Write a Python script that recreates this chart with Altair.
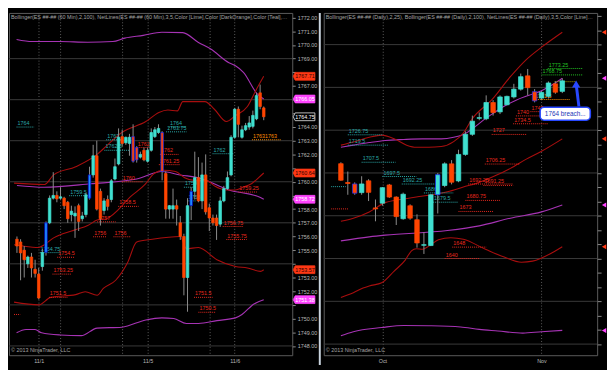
import altair as alt
import pandas as pd

FONT = "Liberation Sans"
UP, DOWN, BLUE, EDGE = "#40e0d0", "#ff4500", "#1e90ff", "#1a2cff"
DRED, PURP = "#a80e0e", "#a633b4"
NET_COL = {"teal": "#2aa9a9", "red": "#e8281e", "orange": "#ff8c00",
           "green": "#22c422", "olive": "#a6a600"}

# ---------------- Left panel: ES 60 Min ----------------
L_open = [1755.8, 1755.6, 1755.0, 1754.0, 1754.5, 1753.6, 1753.25, 1753.8, 1754.84, 1757.0,
          1758.8, 1759.0, 1758.8, 1758.8, 1758.5, 1757.6, 1757.5, 1758.25, 1757.3, 1757.6,
          1758.8, 1760.5, 1761.9, 1759.3, 1757.9, 1758.7, 1758.7, 1760.2, 1761.3, 1763.3,
          1762.85, 1762.8, 1763.3, 1762.5, 1761.8, 1762.3, 1761.5, 1762.3, 1763.3, 1763.6,
          1763.6, 1760.6, 1758.0, 1758.0, 1758.25, 1757.0, 1756.0, 1753.0, 1758.25, 1759.3,
          1760.3, 1758.6, 1760.5, 1758.1, 1757.35, 1757.35, 1756.9, 1758.6, 1759.5, 1760.5,
          1763.25, 1765.3, 1763.25, 1763.8, 1764.0, 1764.05, 1764.6, 1766.5, 1765.4]
L_high = [1756.0, 1755.8, 1755.3, 1754.6, 1754.8, 1754.3, 1753.7, 1755.1, 1757.1, 1759.0,
          1760.7, 1759.3, 1759.6, 1758.9, 1758.6, 1758.25, 1758.2, 1758.4, 1757.8, 1759.2,
          1761.1, 1762.7, 1763.0, 1759.5, 1758.8, 1759.0, 1760.2, 1761.7, 1763.9, 1763.8,
          1763.3, 1763.5, 1764.2, 1762.6, 1762.2, 1762.5, 1762.5, 1763.9, 1764.0, 1764.2,
          1763.7, 1760.75, 1758.3, 1759.5, 1758.7, 1757.5, 1756.2, 1758.8, 1759.6, 1762.2,
          1761.8, 1761.4, 1762.0, 1758.4, 1757.6, 1757.6, 1758.9, 1759.7, 1760.75, 1763.4,
          1765.4, 1765.5, 1764.1, 1764.3, 1764.8, 1765.2, 1766.5, 1767.1, 1765.5]
L_low = [1754.8, 1752.8, 1753.0, 1753.7, 1753.0, 1753.0, 1751.4, 1753.5, 1754.6, 1756.9,
         1758.7, 1758.5, 1758.7, 1758.0, 1757.0, 1757.1, 1755.9, 1756.4, 1757.1, 1757.4,
         1758.7, 1760.3, 1757.9, 1756.8, 1757.6, 1757.9, 1758.5, 1760.1, 1761.2, 1762.6,
         1762.7, 1761.9, 1761.4, 1761.4, 1761.7, 1761.5, 1761.4, 1762.2, 1763.2, 1763.5,
         1760.1, 1757.3, 1757.3, 1757.3, 1756.8, 1755.75, 1751.7, 1750.5, 1757.2, 1758.7,
         1758.5, 1758.0, 1757.6, 1756.4, 1756.8, 1755.75, 1756.7, 1758.5, 1759.4, 1760.4,
         1763.15, 1763.25, 1763.15, 1763.7, 1763.8, 1763.9, 1764.5, 1765.3, 1764.5]
L_close = [1755.3, 1754.8, 1754.3, 1754.5, 1753.7, 1753.3, 1751.5, 1754.84, 1757.0, 1758.8,
           1759.0, 1758.75, 1758.9, 1758.25, 1757.3, 1757.85, 1757.7, 1757.1, 1757.5, 1759.05,
           1760.5, 1761.9, 1758.0, 1757.3, 1758.6, 1758.2, 1760.07, 1761.1, 1763.25, 1762.8,
           1763.25, 1763.25, 1761.5, 1761.6, 1762.0, 1761.6, 1762.3, 1763.6, 1763.8, 1763.9,
           1760.75, 1758.0, 1758.25, 1758.25, 1758.0, 1756.0, 1753.0, 1758.25, 1759.3, 1760.3,
           1758.6, 1760.5, 1757.8, 1757.35, 1757.0, 1756.8, 1758.6, 1759.5, 1760.3, 1763.25,
           1765.3, 1764.2, 1763.8, 1764.1, 1764.3, 1764.85, 1766.3, 1765.5, 1764.75]
L_blue = [8, 20, 48]
L_outlined = [32, 33, 40]

# Bollinger / band lines (bar index, price)
LPU_i = [-0.1, 4.2, 11.9, 19.5, 26.4, 29.7, 34.8, 39.9, 45.7, 50.0, 53.4, 58.4, 60.2, 62.4, 66.2, 68]
LPU_p = [1770.4, 1770.25, 1770.25, 1770.2, 1770.25, 1770.5, 1770.7, 1770.93, 1770.9, 1770.18, 1769.7,
         1768.7, 1768.48, 1768.0, 1766.43, 1766.05]
LPM_i = [0, 7.5, 20.3, 33.0, 39.9, 45.0, 50.0, 58.4, 67.1, 68]
LPM_p = [1759.73, 1759.6, 1759.85, 1760.2, 1760.75, 1760.5, 1760.3, 1759.4, 1758.85, 1758.72]
LPL_i = [-0.1, 2.5, 5.0, 6.8, 11.9, 17.7, 22.1, 28.9, 35.5, 39.9, 43.2, 46.7, 50.0, 55.1, 60.2, 62.0, 65.3, 68]
LPL_p = [1748.96, 1749.2, 1749.2, 1748.96, 1748.8, 1748.75, 1749.3, 1749.37, 1749.9, 1750.05, 1750.0,
         1749.64, 1749.64, 1749.85, 1750.05, 1750.3, 1751.07, 1751.38]
LRU_i = [-0.8, 7.6, 10.1, 16.2, 22.1, 24.6, 28.9, 35.5, 39.1, 41.6, 44.2, 45.7, 51.8, 54.4, 57.7, 60.2,
         63.5, 65.8, 68]
LRU_p = [1759.9, 1759.8, 1760.5, 1761.1, 1762.0, 1762.6, 1763.6, 1764.4, 1765.07, 1765.25, 1765.18,
         1765.86, 1765.86, 1765.3, 1764.4, 1764.84, 1765.5, 1766.66, 1767.71]
LRM_i = [-0.8, 1.7, 6.0, 7.6, 10.1, 12.6, 16.2, 19.5, 22.1, 24.6, 31.7, 35.3, 37.8, 40.4, 43.7, 46.2,
         48.8, 52.1, 54.4, 55.9, 57.7, 60.2, 62.3, 64.6, 66.6, 68]
LRM_p = [1755.4, 1755.3, 1755.2, 1755.4, 1755.9, 1756.2, 1756.5, 1756.8, 1757.2, 1757.3, 1759.0,
         1759.8, 1760.6, 1760.84, 1760.75, 1760.3, 1760.1, 1760.1, 1759.7, 1759.5, 1759.4, 1759.4,
         1759.6, 1759.85, 1760.3, 1760.64]
LRL_i = [-0.8, 6.0, 9.3, 16.2, 18.8, 22.1, 23.8, 27.2, 30.5, 33.0, 37.3, 45.0, 46.7, 50.0, 55.1, 60.2,
         63.5, 67.1, 68]
LRL_p = [1751.2, 1751.0, 1751.55, 1751.75, 1751.96, 1751.7, 1752.2, 1752.8, 1754.1, 1755.6, 1755.8,
         1756.0, 1755.1, 1755.2, 1754.3, 1753.8, 1753.7, 1753.45, 1753.57]

# NetLines labels
LN_text = ["1764", "1764", "1763.75", "1763", "1762.5", "1762", "1762", "1761.25", "1760", "1759.5",
           "1758.5", "1757", "1756", "1756", "1762", "17631763", "1759.25", "1756.75", "1755.75", "1759",
           "1758", "1754.75", "1754.5", "1753.25", "1751.5", "1751.5", "1750.5", ""]
LN_price = [1764.0, 1764.0, 1763.65, 1763.07, 1762.3, 1762.5, 1762.0, 1761.25, 1760.0, 1758.98,
            1758.2, 1757.07, 1755.98, 1755.98, 1762.05, 1763.07, 1759.25, 1756.73, 1755.78, 1759.6,
            1758.6, 1754.82, 1754.48, 1753.25, 1751.55, 1751.55, 1750.46, 1750.3]
LN_x0 = [-0.1, 41.9, 41.1, 24.6, 24.1, 33.0, 39.4, 39.1, 28.9, 14.4, 27.9, 22.1, 21.0, 26.6, 53.9,
         64.8, 61.0, 56.7, 57.7, 46.0, 47.0, 6.3, 11.1, 9.8, 8.8, 48.8, 50.0, -0.8]
LN_x1 = [4.8, 46.7, 46.7, 29.2, 31.0, 37.3, 44.5, 45.0, 34.8, 20.3, 33.5, 27.2, 24.6, 31.2, 59.7,
         72.9, 66.1, 62.3, 63.3, 48.8, 49.3, 11.9, 16.0, 14.9, 13.9, 53.9, 54.6, 0.9]
LN_kind = ["teal", "teal", "teal", "teal", "teal", "red", "red", "red", "red", "teal",
           "red", "red", "red", "red", "teal", "orange", "red", "red", "red", "teal",
           "teal", "teal", "red", "red", "red", "red", "red", "red"]

L_tag_p = [1767.71, 1766.05, 1764.75, 1760.64, 1758.72, 1753.57, 1751.38]
L_tag_kind = ["red", "mag", "last", "red", "mag", "red", "mag"]

L_grid = [1748, 1751, 1754, 1757, 1760, 1763, 1766, 1769]
L_yticks = list(range(1748, 1773))
L_xticks = [6, 12, 29, 36, 53, 60]
L_xlabels = ["11/1", "", "", "11/5", "", "11/6"]
L_XDOM = [-0.84, 74.5]
L_YDOM = [1747.32, 1772.34]
L_HEADER = ("Bollinger(ES ##-## (60 Min),2,100), NetLines(ES ##-## (60 Min),3,5,Color [Lime],"
            "Color [DarkOrange],Color [Teal],Color [R")

# ---------------- Right panel: ES Daily ----------------
R_open = [1706.5, 1693.3, 1692.3, 1686.2, 1694.5, 1675.5, 1678.8, 1691.6, 1683.1, 1667.9,
          1677.0, 1667.2, 1649.3, 1649.1, 1684.7, 1691.2, 1706.4, 1694.4, 1713.0, 1727.1,
          1738.3, 1738.0, 1749.4, 1742.8, 1747.8, 1753.3, 1758.75, 1768.1, 1757.0, 1752.5,
          1753.7, 1762.5, 1757.2]
R_high = [1707.5, 1701.0, 1693.4, 1697.7, 1695.6, 1681.4, 1690.1, 1692.3, 1683.6, 1686.2,
          1678.0, 1671.0, 1658.5, 1685.0, 1699.9, 1707.5, 1709.0, 1716.3, 1729.2, 1740.2,
          1742.4, 1754.4, 1751.1, 1754.4, 1754.2, 1762.5, 1769.7, 1772.9, 1758.8, 1757.5,
          1764.2, 1764.2, 1766.4]
R_low = [1694.5, 1684.7, 1684.7, 1684.7, 1680.3, 1666.1, 1677.0, 1682.5, 1663.5, 1667.2,
         1667.2, 1647.6, 1643.2, 1648.7, 1671.6, 1690.0, 1692.0, 1693.5, 1712.0, 1726.0,
         1737.0, 1737.0, 1740.2, 1741.3, 1747.5, 1752.2, 1757.7, 1754.4, 1749.5, 1751.0,
         1752.2, 1755.5, 1756.0]
R_close = [1694.9, 1692.6, 1685.8, 1692.3, 1686.4, 1674.8, 1689.7, 1683.1, 1669.4, 1685.1,
           1668.3, 1650.9, 1649.7, 1684.7, 1698.8, 1706.4, 1693.5, 1713.0, 1727.1, 1736.3,
           1738.8, 1749.4, 1742.4, 1753.3, 1753.7, 1758.75, 1767.5, 1759.8, 1750.5, 1756.5,
           1763.1, 1756.6, 1764.6]
R_outlined = [2, 14, 28]

RRU_j = [0, 1.8, 4.1, 5.9, 7.7, 9.5, 10.9, 12.7, 14.5, 16.3, 17.7, 19.0, 21.8, 24.5, 26.8, 29.0, 32]
RRU_p = [1719.5, 1721.7, 1725.0, 1726.5, 1723.9, 1719.5, 1718.0, 1718.0, 1718.5, 1722.0, 1728.0,
         1738.1, 1751.2, 1767.5, 1779.5, 1788.2, 1798.7]
RPU_j = [0, 1.8, 4.1, 6.4, 9.1, 11.8, 14.5, 16.3, 17.7, 20.9, 23.6, 25.4, 27.2, 29.0, 30.8, 32]
RPU_p = [1718.0, 1719.5, 1721.3, 1722.8, 1723.5, 1723.9, 1723.9, 1725.0, 1727.0, 1738.1, 1746.8,
         1751.2, 1754.5, 1757.7, 1762.5, 1766.4]
RRM_j = [0, 1.8, 4.1, 6.4, 8.6, 10.9, 13.2, 15.4, 17.7, 20.0, 22.2, 24.5, 26.8, 29.0, 32]
RRM_p = [1666.2, 1668.3, 1672.7, 1679.2, 1681.4, 1683.2, 1684.7, 1686.8, 1690.1, 1693.4, 1697.8,
         1703.2, 1709.7, 1715.2, 1723.9]
RPM_j = [0, 4.1, 6.4, 15.4, 20.0, 24.5, 29.0, 32]
RPM_p = [1652.4, 1655.2, 1656.4, 1659.6, 1662.9, 1668.3, 1672.7, 1677.5]
RRL_j = [0, 1.8, 3.2, 4.1, 5.9, 7.7, 9.3, 10.2, 10.9, 11.8, 12.7, 14.1, 15.9, 17.7, 20.9, 23.6, 26.1,
         27.7, 29.0, 30.8, 32]
RRL_p = [1612.7, 1616.0, 1619.3, 1620.8, 1623.0, 1631.2, 1638.9, 1645.4, 1646.9, 1646.5, 1648.7,
         1653.1, 1654.6, 1653.5, 1646.5, 1641.0, 1637.4, 1638.2, 1640.4, 1644.8, 1648.3]
RPL_j = [0, 1.8, 5.9, 9.1, 12.7, 17.3, 20.0, 22.7, 26.3, 29.0, 32]
RPL_p = [1585.9, 1588.7, 1591.6, 1593.1, 1592.9, 1592.0, 1590.3, 1589.2, 1587.7, 1588.7, 1589.6]

RN_text = ["1773.25", "1768.75", "", "1751.5", "1743", "1740", "1734.5", "1727", "1706.25", "1692.25",
           "1691.25", "1680.75", "1673", "1648", "1640", "1726.75", "1719.5", "1707.5", "1697.5",
           "1692.25", "1686", "1679.5", "", ""]
RN_price = [1773.25, 1768.75, 1764.0, 1751.5, 1743.0, 1740.0, 1734.5, 1727.0, 1706.25, 1692.25,
            1691.25, 1680.75, 1673.0, 1648.0, 1640.0, 1726.75, 1719.5, 1707.5, 1697.5, 1692.25,
            1686.0, 1679.5, 1690.4, 1674.8]
RN_x0 = [29.9, 29.0, 30.9, 27.9, 27.4, 25.3, 24.9, 21.8, 20.8, 18.4, 20.6, 18.0, 17.0, 16.1, 15.0,
         1.0, 1.0, 3.0, 6.0, 8.8, 12.0, 13.3, -1.4, -1.4]
RN_x1 = [35.0, 35.0, 34.0, 33.1, 29.9, 29.3, 29.9, 26.9, 25.9, 24.9, 24.9, 23.1, 22.0, 21.0, 20.0,
         6.1, 6.8, 7.9, 10.9, 13.6, 16.3, 17.0, 0.7, 1.1]
RN_kind = ["green", "green", "olive", "orange", "red", "red", "red", "red", "red", "red",
           "red", "red", "red", "red", "red", "teal", "teal", "teal", "teal", "teal",
           "teal", "teal", "teal", "red"]

R_grid = [1580, 1610, 1640, 1670, 1700, 1730, 1760, 1790]
R_yticks = list(range(1580, 1811, 10))
R_xticks = [6, 29]
R_xlabels = ["Oct", "Nov"]
R_XDOM = [-1.77, 36.33]
R_YDOM = [1572.2, 1812.2]
R_HEADER = ("Bollinger(ES ##-## (Daily),2,25), Bollinger(ES ##-## (Daily),2,100), "
            "NetLines(ES ##-## (Daily),3,5,Color [Line],Colo")

CALLOUT_TEXT = "1764 breach..."
CALLOUT_BOX = {"x0": 28.8, "x1": 36.05, "p0": 1737.0, "p1": 1746.1}
ARROW = {"x0": 34.4, "p0": 1746.7, "x1": 34.0, "p1": 1762.4}
COPYRIGHT = "\u00a9 2013 NinjaTrader, LLC"

WL, WR, H = 288, 278, 348


def lab_expr(vals, labs):
    e = "''"
    for v, l in zip(reversed(vals), reversed(labs)):
        e = f"datum.value == {v} ? '{l}' : ({e})"
    return e


def price_label_expr(tags):
    cond = " || ".join(f"abs(datum.value - {t}) < 0.5" for t in tags)
    return f"({cond}) ? '' : format(datum.value, '.2f')"


def make_axes(xticks, xlabels, yticks, show_ylabels, tags=()):
    xa = alt.Axis(orient="bottom", values=xticks, labelExpr=lab_expr(xticks, xlabels), grid=True,
                  gridDash=[1, 2], gridColor="#5e5e5e", ticks=False, domain=False, title=None,
                  labelPadding=3, labelOverlap=False, labelFlush=False)
    if show_ylabels:
        ya = alt.Axis(orient="right", values=yticks, labelExpr=price_label_expr(tags), grid=False,
                      title=None, tickSize=3, labelPadding=2, domain=False, labelOverlap=False)
    else:
        ya = alt.Axis(orient="right", values=yticks, labels=False, grid=False, title=None, tickSize=4,
                      domain=False)
    return xa, ya


def candles_df(o, h, l, c, blue, outlined):
    rows = []
    for k in range(len(o)):
        fill = UP if c[k] >= o[k] else DOWN
        stroke = fill
        if k in blue:
            fill, stroke = BLUE, "#0000cd"
        if k in outlined:
            stroke = EDGE
        rows.append({"x": k, "o": o[k], "h": h[k], "l": l[k], "c": c[k], "fill": fill, "stroke": stroke})
    return pd.DataFrame(rows)


def lines_df(series):
    rows = []
    for name, xs, ps, col in series:
        for a, b in zip(xs, ps):
            rows.append({"s": name, "x": a, "p": b, "col": col})
    return pd.DataFrame(rows)


def net_df(t, p, x0, x1, kind):
    return pd.DataFrame({"t": t, "p": p, "x0": x0, "x1": x1,
                         "col": [NET_COL[k] for k in kind]})


def panel(W, xdom, ydom, xa, ya, grid, cdf, body, ldf, ndf, header, extra):
    def X(f):
        return alt.X(f, type="quantitative", scale=alt.Scale(domain=xdom, nice=False, zero=False), axis=xa)

    def Y(f):
        return alt.Y(f, type="quantitative", scale=alt.Scale(domain=ydom, nice=False, zero=False), axis=ya)

    layers = []
    layers.append(alt.Chart(pd.DataFrame({"p": grid})).mark_rule(color="#3a3a3a", strokeWidth=1)
                  .encode(y=Y("p")))
    layers.append(alt.Chart(ldf).mark_line(strokeWidth=1.1, interpolate="monotone")
                  .encode(x=X("x"), y=Y("p"), color=alt.Color("col:N", scale=None), detail="s:N"))
    layers.append(alt.Chart(ndf).mark_rule(strokeDash=[1, 1], strokeWidth=1)
                  .encode(x=X("x0"), x2="x1", y=Y("p"), color=alt.Color("col:N", scale=None)))
    layers.append(alt.Chart(ndf).mark_text(align="left", baseline="bottom", dx=1, dy=-1, fontSize=5.5,
                                           font=FONT)
                  .encode(x=X("x0"), y=Y("p"), text="t:N", color=alt.Color("col:N", scale=None)))
    layers.append(alt.Chart(cdf).mark_rule(color="#8e8e8e", strokeWidth=1)
                  .encode(x=X("x"), y=Y("l"), y2="h"))
    layers.append(alt.Chart(cdf).mark_bar(size=body, strokeWidth=0.7, orient="vertical")
                  .encode(x=X("x"), y=Y("o"), y2="c", fill=alt.Fill("fill:N", scale=None),
                          stroke=alt.Stroke("stroke:N", scale=None)))
    layers.append(alt.Chart(pd.DataFrame({"t": [header]}))
                  .mark_text(align="left", baseline="top", fontSize=5.5, font=FONT, color="#a4a4a4",
                             limit=W - 4, ellipsis="")
                  .encode(x=alt.value(2), y=alt.value(2), text="t:N"))
    layers.append(alt.Chart(pd.DataFrame({"t": [COPYRIGHT]}))
                  .mark_text(align="left", baseline="bottom", fontSize=5.5, font=FONT, color="#a4a4a4")
                  .encode(x=alt.value(2), y=alt.value(H - 2), text="t:N"))
    layers += extra(X, Y)
    return alt.layer(*layers).properties(width=W, height=H)


# ---- left extras: price tags on the axis ----
TAG_PATH = "M-1,0 L-0.82,-0.36 L1,-0.36 L1,0.36 L-0.82,0.36 Z"
TAG_FILL = {"red": "#ff3814", "mag": "#ff44ff", "last": "#000000"}
TAG_STROKE = {"red": "#ff3814", "mag": "#ff44ff", "last": "#e8e8e8"}
TAG_TEXT = {"red": "#2a0000", "mag": "#ffffff", "last": "#ffffff"}


def left_extra(X, Y):
    tdf = pd.DataFrame({"p": L_tag_p,
                        "fill": [TAG_FILL[k] for k in L_tag_kind],
                        "stroke": [TAG_STROKE[k] for k in L_tag_kind],
                        "tc": [TAG_TEXT[k] for k in L_tag_kind]})
    tdf["t"] = tdf["p"].map(lambda v: f"{v:.2f}")
    pts = alt.Chart(tdf).mark_point(shape=TAG_PATH, size=484, filled=True, strokeWidth=0.8, opacity=1) \
        .encode(x=alt.value(WL + 12), y=Y("p"), fill=alt.Fill("fill:N", scale=None),
                stroke=alt.Stroke("stroke:N", scale=None))
    txt = alt.Chart(tdf).mark_text(fontSize=5.5, font=FONT, align="center", baseline="middle") \
        .encode(x=alt.value(WL + 13), y=Y("p"), text="t:N", color=alt.Color("tc:N", scale=None))
    return [pts, txt]


def right_extra(X, Y):
    ends = pd.DataFrame({"p": [RRU_p[-1], RPU_p[-1], RRM_p[-1], RPM_p[-1], RRL_p[-1], RPL_p[-1]],
                         "col": ["#ff3814", "#ff44ff", "#ff3814", "#ff44ff", "#ff3814", "#ff44ff"]})
    marks = alt.Chart(ends).mark_point(shape="triangle-left", size=26, filled=True, opacity=1) \
        .encode(x=alt.value(WR + 7), y=Y("p"), color=alt.Color("col:N", scale=None))
    strip = alt.Chart(pd.DataFrame({"a": [0]})).mark_rule(color="#c9d3de", strokeWidth=2) \
        .encode(x=alt.value(-4), y=alt.value(0), y2=alt.value(H + 10))
    box = alt.Chart(pd.DataFrame([CALLOUT_BOX])).mark_rect(fill="white", stroke="#2848ff", strokeWidth=1.6,
                                                          cornerRadius=4) \
        .encode(x=X("x0"), x2="x1", y=Y("p0"), y2="p1")
    btxt = alt.Chart(pd.DataFrame({"x": [(CALLOUT_BOX["x0"] + CALLOUT_BOX["x1"]) / 2],
                                   "p": [(CALLOUT_BOX["p0"] + CALLOUT_BOX["p1"]) / 2],
                                   "t": [CALLOUT_TEXT]})) \
        .mark_text(fontSize=6.5, font=FONT, color="#2036b8", baseline="middle") \
        .encode(x=X("x"), y=Y("p"), text="t:N")
    shaft = alt.Chart(pd.DataFrame([ARROW])).mark_rule(color="#2848ff", strokeWidth=3) \
        .encode(x=X("x0"), x2="x1", y=Y("p0"), y2="p1")
    head = alt.Chart(pd.DataFrame({"x": [ARROW["x1"]], "p": [ARROW["p1"]]})) \
        .mark_point(shape="triangle-up", size=70, filled=True, color="#2848ff", opacity=1) \
        .encode(x=X("x"), y=Y("p"))
    return [marks, strip, box, btxt, shaft, head]


lxa, lya = make_axes(L_xticks, L_xlabels, L_yticks, True, L_tag_p)
rxa, rya = make_axes(R_xticks, R_xlabels, R_yticks, False)

left = panel(WL, L_XDOM, L_YDOM, lxa, lya, L_grid,
             candles_df(L_open, L_high, L_low, L_close, L_blue, L_outlined), 2.6,
             lines_df([("pu", LPU_i, LPU_p, PURP), ("pm", LPM_i, LPM_p, PURP), ("pl", LPL_i, LPL_p, PURP),
                       ("ru", LRU_i, LRU_p, DRED), ("rm", LRM_i, LRM_p, DRED), ("rl", LRL_i, LRL_p, DRED)]),
             net_df(LN_text, LN_price, LN_x0, LN_x1, LN_kind), L_HEADER, left_extra)

right = panel(WR, R_XDOM, R_YDOM, rxa, rya, R_grid,
              candles_df(R_open, R_high, R_low, R_close, [], R_outlined), 4.6,
              lines_df([("pu", RPU_j, RPU_p, PURP), ("pm", RPM_j, RPM_p, PURP), ("pl", RPL_j, RPL_p, PURP),
                        ("ru", RRU_j, RRU_p, DRED), ("rm", RRM_j, RRM_p, DRED), ("rl", RRL_j, RRL_p, DRED)]),
              net_df(RN_text, RN_price, RN_x0, RN_x1, RN_kind), R_HEADER, right_extra)

chart = (alt.hconcat(left, right, spacing=0)
         .properties(background="black", padding=0)
         .configure_view(stroke="#5c5c5c", strokeWidth=1)
         .configure_axis(labelFont=FONT, labelFontSize=5.5, labelColor="#b8b8b8", tickColor="#8a8a8a")
         .configure_text(font=FONT))

chart.save("out.html", embed_options={"renderer": "svg", "actions": False})
